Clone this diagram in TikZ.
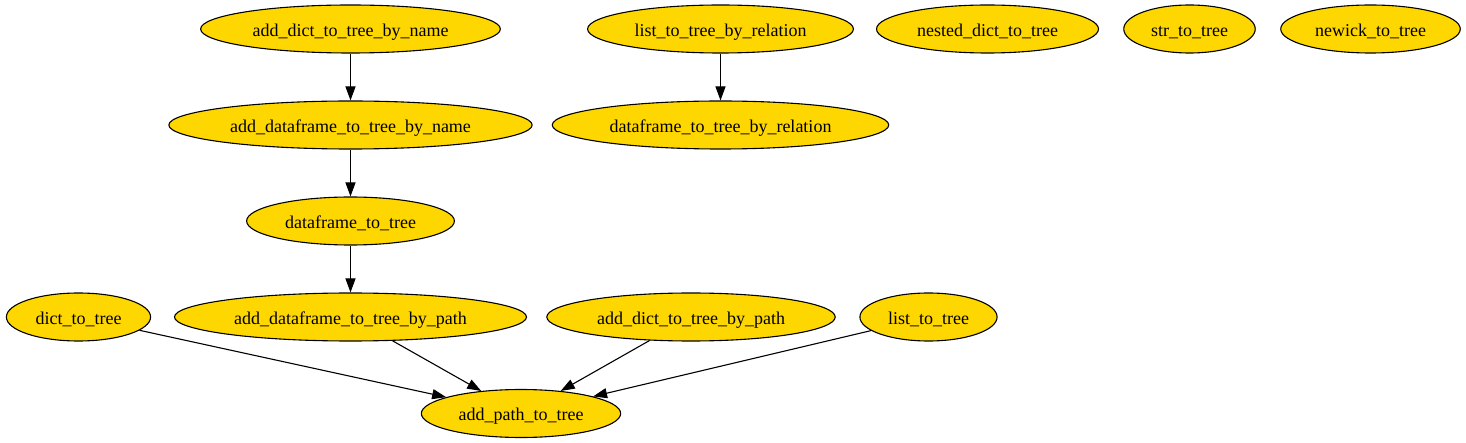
\documentclass[tikz,border=0pt]{standalone}
\usepackage{fontspec}
\setmainfont{Liberation Serif}
\newfontfamily\timesfont{Liberation Serif}
\usetikzlibrary{shapes.geometric,arrows.meta}
\definecolor{gold}{HTML}{FFD700}

\begin{document}
\begin{tikzpicture}[x=1pt,y=-1pt,
    func/.style={ellipse,draw,fill=gold,line width=1.1pt,inner xsep=8pt,inner ysep=4pt,
        minimum height=48pt,text height=18pt,text depth=3.5pt,font=\timesfont\fontsize{18}{21}\selectfont},
    call/.style={line width=1.1pt,-{Triangle[length=14pt,width=10pt]}}]
\useasboundingbox (0,0) rectangle (1466,443);

% top row
\node[func] (dictname) at (350.5,29) {add\_dict\_to\_tree\_by\_name};
\node[func] (listrel) at (720.5,29) {list\_to\_tree\_by\_relation};
\node[func] (nested) at (987.5,29) {nested\_dict\_to\_tree};
\node[func] (str) at (1189.5,29) {str\_to\_tree};
\node[func] (newick) at (1370.5,29) {newick\_to\_tree};

\node[func] (dfname) at (350.5,125) {add\_dataframe\_to\_tree\_by\_name};
\node[func] (dfrel) at (720.5,125) {dataframe\_to\_tree\_by\_relation};

\node[func] (df) at (350.5,221) {dataframe\_to\_tree};

\node[func] (dict) at (78.5,317) {dict\_to\_tree};
\node[func] (dfpath) at (350.5,317) {add\_dataframe\_to\_tree\_by\_path};
\node[func] (dictpath) at (691,317) {add\_dict\_to\_tree\_by\_path};
\node[func] (list) at (928.5,317) {list\_to\_tree};

% bottom
\node[func] (path) at (521,413.5) {add\_path\_to\_tree};

% calls
\draw[call] (dictname) -- (dfname);
\draw[call] (dfname) -- (df);
\draw[call] (df) -- (dfpath);
\draw[call] (listrel) -- (dfrel);

\foreach \src in {dict,dfpath,dictpath,list}
    \draw[call] (\src) -- (path);
\end{tikzpicture}
\end{document}
